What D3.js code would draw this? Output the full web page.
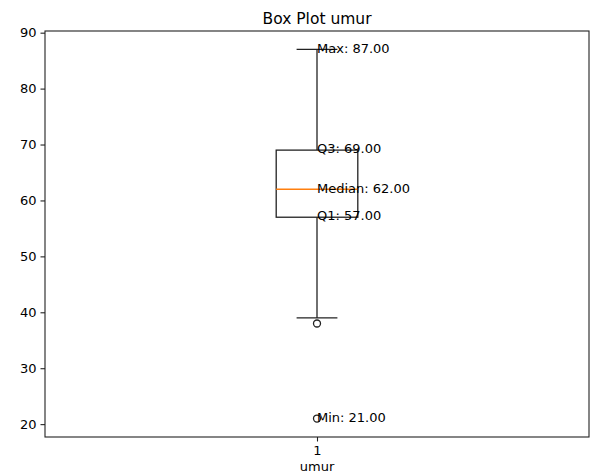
<!DOCTYPE html>
<html>
<head>
<meta charset="utf-8">
<script src="https://cdn.jsdelivr.net/npm/d3@7"></script>
<style>
  body { margin: 0; background: #fff; }
  text { font-family: "DejaVu Sans", sans-serif; }
</style>
</head>
<body>
<div id="chart"></div>
<script>
// box statistics for "umur"
const categories = ["1"];
const boxStats = [{ min: 21, q1: 57, median: 62, q3: 69, max: 87, whiskLo: 39, whiskHi: 87 }];
const outliers = [38, 21];
const labelNames = ["Max", "Q3", "Median", "Q1", "Min"];
const labelKeys = ["max", "q3", "median", "q1", "min"];
const yTicks = [20, 30, 40, 50, 60, 70, 80, 90];

const W = 590, H = 476;
const margin = { top: 31, right: 1, bottom: 39, left: 45 };
let width = W - margin.left - margin.right;
let height = H - margin.top - margin.bottom;

let x = d3.scaleLinear().domain([0.5, 1.5]).range([0, width]);
let y = d3.scaleLinear().domain([17.7, 90.3]).range([height, 0]);

let svg = d3.select("#chart").append("svg")
  .attr("width", W).attr("height", H)
  .append("g")
  .attr("transform", "translate(" + margin.left + "," + margin.top + ")");

const boxW = 0.15, capW = 0.075;
const ink = "#222", lw = 1.3;

boxStats.forEach((s, i) => {
  let pos = i + 1;
  let g = svg.append("g").attr("stroke-width", lw);
  // whiskers
  g.append("line").attr("x1", x(pos)).attr("x2", x(pos))
    .attr("y1", y(s.q3)).attr("y2", y(s.whiskHi)).attr("stroke", ink);
  g.append("line").attr("x1", x(pos)).attr("x2", x(pos))
    .attr("y1", y(s.q1)).attr("y2", y(s.whiskLo)).attr("stroke", ink);
  // caps
  [s.whiskHi, s.whiskLo].forEach(v => {
    g.append("line").attr("x1", x(pos - capW / 2)).attr("x2", x(pos + capW / 2))
      .attr("y1", y(v)).attr("y2", y(v)).attr("stroke", ink);
  });
  // box
  g.append("rect")
    .attr("x", x(pos - boxW / 2)).attr("y", y(s.q3))
    .attr("width", x(pos + boxW / 2) - x(pos - boxW / 2))
    .attr("height", y(s.q1) - y(s.q3))
    .attr("fill", "none").attr("stroke", ink);
  // median
  g.append("line").attr("x1", x(pos - boxW / 2)).attr("x2", x(pos + boxW / 2))
    .attr("y1", y(s.median)).attr("y2", y(s.median)).attr("stroke", "#ff7f0e");
  // outliers
  g.selectAll("circle").data(outliers).enter().append("circle")
    .attr("cx", x(pos)).attr("cy", d => y(d)).attr("r", 3.5)
    .attr("fill", "none").attr("stroke", ink);
  // annotations
  labelKeys.forEach((k, j) => {
    g.append("text").attr("x", x(pos)).attr("y", y(s[k]))
      .attr("dy", "0.25em").attr("font-size", "13px").attr("fill", "#000")
      .attr("stroke", "none")
      .text(labelNames[j] + ": " + s[k].toFixed(2));
  });
});

// axes
let yAxis = svg.append("g")
  .call(d3.axisLeft(y).tickValues(yTicks).tickSize(4.5).tickPadding(4));
let xAxis = svg.append("g")
  .attr("transform", "translate(0," + height + ")")
  .call(d3.axisBottom(x).tickValues([1]).tickFormat((d, i) => categories[i]).tickSize(4.5).tickPadding(4));
[xAxis, yAxis].forEach(a => {
  a.selectAll("text").attr("font-size", "13px").attr("fill", "#000")
    .style("font-family", "DejaVu Sans, sans-serif");
  a.select(".domain").remove();
  a.selectAll("line").attr("stroke", ink).attr("stroke-width", 1.1);
});

// frame
svg.append("rect").attr("width", width).attr("height", height)
  .attr("fill", "none").attr("stroke", ink).attr("stroke-width", 1.1);

svg.append("text").attr("x", width / 2).attr("y", -7)
  .attr("text-anchor", "middle").attr("font-size", "15.5px").text("Box Plot umur");
svg.append("text").attr("x", x(1)).attr("y", height + 34)
  .attr("text-anchor", "middle").attr("font-size", "13px").text("umur");
</script>
</body>
</html>
